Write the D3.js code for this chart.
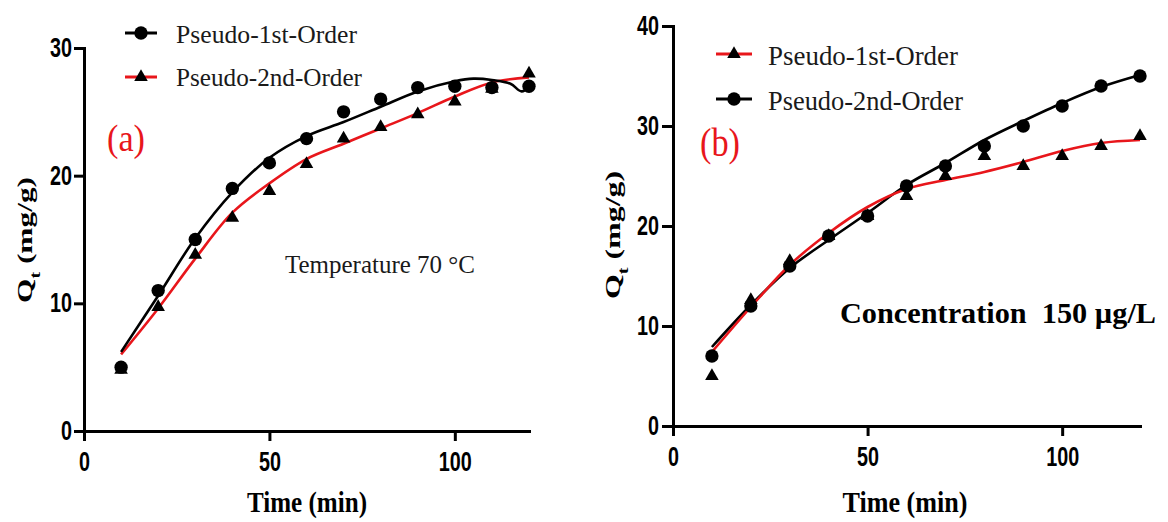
<!DOCTYPE html>
<html>
<head>
<meta charset="utf-8">
<script src="https://cdn.jsdelivr.net/npm/d3@7"></script>
<style>
  html, body { margin: 0; padding: 0; background: #ffffff; }
  svg { display: block; }
</style>
</head>
<body>
<script>
// ---------------- DATA ----------------
const time = [10, 20, 30, 40, 50, 60, 70, 80, 90, 100, 110, 120];
const xTicks = [0, 50, 100];
const yTicksA = [0, 10, 20, 30];
const yTicksB = [0, 10, 20, 30, 40];

// Panel (a) – Temperature 70 °C
const aFirstObs  = [5.0, 11.0, 15.0, 19.0, 21.0, 22.9, 25.0, 26.0, 26.9, 27.0, 26.9, 27.0];   // circles
const aSecondObs = [4.8, 9.7, 13.8, 16.7, 18.8, 20.9, 22.9, 23.8, 24.8, 25.8, 26.8, 28.0];    // triangles
const aFirstFitT = [10, 20, 30, 40, 50, 60, 70, 80, 90, 100, 105, 110, 115, 118, 120];
const aFirstFit  = [6.2, 10.6, 15.1, 18.7, 21.4, 23.1, 24.2, 25.4, 26.6, 27.4, 27.6, 27.5, 27.2, 26.6, 26.9];
const aSecondFitT = [10, 20, 30, 40, 50, 60, 70, 80, 90, 100, 110, 120];
const aSecondFit  = [6.0, 9.6, 13.5, 17.1, 19.4, 21.3, 22.5, 23.7, 24.9, 26.2, 27.3, 27.7];

// Panel (b) – Concentration 150 µg/L
const bFirstObs  = [5.0, 12.6, 16.5, 19.0, 21.0, 23.0, 25.0, 27.0, 26.0, 27.0, 28.0, 29.0];   // triangles
const bSecondObs = [7.0, 12.0, 16.0, 19.0, 21.0, 24.0, 26.0, 28.0, 30.0, 32.0, 34.0, 35.0];   // circles
const bFitT = [10, 20, 30, 40, 50, 60, 70, 80, 90, 100, 110, 120];
const bFirstFit  = [7.4, 11.9, 16.1, 19.3, 21.9, 23.7, 24.6, 25.4, 26.4, 27.5, 28.3, 28.6];
const bSecondFit = [7.9, 12.1, 15.8, 18.6, 21.3, 24.1, 26.3, 28.6, 30.5, 32.3, 33.9, 35.1];

const legendA = ["Pseudo-1st-Order", "Pseudo-2nd-Order"];
const legendB = ["Pseudo-1st-Order", "Pseudo-2nd-Order"];
const xTitle = "Time (min)";
const yTitleMain = "Q";
const yTitleSub = "t";
const yTitleRest = " (mg/g)";

// ---------------- STYLE ----------------
const RED = "#e8161b";
const BLACK = "#000000";
const SERIF = "'Liberation Serif', 'DejaVu Serif', serif";
const SANS = "'Liberation Sans', Arial, sans-serif";

const svg = d3.select("body").append("svg")
  .attr("width", 1168).attr("height", 522);

const circleSym = d3.symbol().type(d3.symbolCircle).size(140);
const triSym = d3.symbol().type(d3.symbolTriangle).size(80);

function drawAxes(x, y, yTicks, tickLen, yPad) {
  const gx = svg.append("g")
    .attr("transform", `translate(0,${y(0)})`)
    .call(d3.axisBottom(x).tickValues(xTicks).tickSize(10).tickSizeOuter(0).tickPadding(11));
  const gy = svg.append("g")
    .attr("transform", `translate(${x(0)},0)`)
    .call(d3.axisLeft(y).tickValues(yTicks).tickSize(tickLen).tickSizeOuter(0).tickPadding(yPad));
  [gx, gy].forEach(g => {
    g.selectAll("path.domain").attr("stroke", BLACK).attr("stroke-width", 3).attr("stroke-linecap", "square");
    g.selectAll(".tick line").attr("stroke", BLACK).attr("stroke-width", 3);
    g.selectAll(".tick text")
      .attr("fill", BLACK)
      .style("font-family", SANS)
      .style("font-weight", "bold")
      .style("font-size", "27px")
      .attr("textLength", d => String(d).length * 11)
      .attr("lengthAdjust", "spacingAndGlyphs");
  });
}

function drawLine(x, y, ts, vs, color) {
  const pts = ts.map((t, i) => [t, vs[i]]);
  svg.append("path")
    .datum(pts)
    .attr("fill", "none")
    .attr("stroke", color)
    .attr("stroke-width", 2.6)
    .attr("d", d3.line().x(d => x(d[0])).y(d => y(d[1])).curve(d3.curveCatmullRom.alpha(0.5)));
}

function drawMarkers(x, y, ts, vs, sym) {
  svg.append("g").selectAll("path")
    .data(ts.map((t, i) => [t, vs[i]]))
    .join("path")
    .attr("transform", d => `translate(${x(d[0])},${y(d[1])})`)
    .attr("d", sym)
    .attr("fill", BLACK);
}

function legendRow(x0, x1, yLine, color, sym, text, tx, ty, fs, tl) {
  svg.append("line").attr("x1", x0).attr("x2", x1).attr("y1", yLine).attr("y2", yLine)
    .attr("stroke", color).attr("stroke-width", 3);
  svg.append("path").attr("transform", `translate(${(x0 + x1) / 2},${yLine})`).attr("d", sym).attr("fill", BLACK);
  svg.append("text").attr("x", tx).attr("y", ty).text(text)
    .style("font-family", SERIF).style("font-size", fs + "px").attr("fill", "#1a1a1a")
    .attr("textLength", tl).attr("lengthAdjust", "spacingAndGlyphs");
}

function yTitle(cx, cy, len) {
  const t = svg.append("text")
    .attr("transform", `translate(${cx},${cy}) rotate(-90)`)
    .attr("text-anchor", "middle")
    .attr("dy", "0.35em")
    .style("font-family", SERIF).style("font-weight", "bold").style("font-size", "22px")
    .attr("textLength", len).attr("lengthAdjust", "spacingAndGlyphs");
  t.append("tspan").text(yTitleMain);
  t.append("tspan").attr("baseline-shift", "sub").style("font-size", "14px").text(yTitleSub);
  t.append("tspan").text(yTitleRest);
}

function xTitleText(cx, by, len) {
  svg.append("text").attr("x", cx).attr("y", by).attr("text-anchor", "middle")
    .style("font-family", SERIF).style("font-weight", "bold").style("font-size", "29px")
    .attr("textLength", len).attr("lengthAdjust", "spacingAndGlyphs")
    .text(xTitle);
}

// ---------------- PANEL (a) ----------------
const xA = d3.scaleLinear().domain([0, 120]).range([84, 529]);
const yA = d3.scaleLinear().domain([0, 30]).range([431, 48]);

drawAxes(xA, yA, yTicksA, 10, 2);
drawLine(xA, yA, aSecondFitT, aSecondFit, RED);
drawLine(xA, yA, aFirstFitT, aFirstFit, BLACK);
drawMarkers(xA, yA, time, aFirstObs, circleSym);
drawMarkers(xA, yA, time, aSecondObs, triSym);

legendRow(125, 157, 33, BLACK, circleSym, legendA[0], 176, 43, 26, 181);
legendRow(125, 157, 77, RED, triSym, legendA[1], 176, 86, 26, 186);

svg.append("text").attr("x", 107).attr("y", 151).text("(a)")
  .style("font-family", SERIF).style("font-size", "38px").attr("fill", RED)
  .attr("textLength", 38).attr("lengthAdjust", "spacingAndGlyphs");

svg.append("text").attr("x", 285).attr("y", 273)
  .style("font-family", SERIF).style("font-size", "26px").attr("fill", "#1a1a1a")
  .attr("textLength", 190).attr("lengthAdjust", "spacingAndGlyphs")
  .text("Temperature 70 °C");

yTitle(24, 240, 126);
xTitleText(307, 512, 120);

// ---------------- PANEL (b) ----------------
const xB = d3.scaleLinear().domain([0, 120]).range([673, 1140]);
const yB = d3.scaleLinear().domain([0, 40]).range([426, 26]);

drawAxes(xB, yB, yTicksB, 11, 3);
drawLine(xB, yB, bFitT, bSecondFit, BLACK);
drawLine(xB, yB, bFitT, bFirstFit, RED);
drawMarkers(xB, yB, time, bSecondObs, circleSym);
drawMarkers(xB, yB, time, bFirstObs, triSym);

legendRow(716, 752, 54, RED, triSym, legendB[0], 768, 65, 27, 190);
legendRow(716, 752, 99, BLACK, circleSym, legendB[1], 768, 110, 27, 195);

svg.append("text").attr("x", 700).attr("y", 156).text("(b)")
  .style("font-family", SERIF).style("font-size", "40px").attr("fill", RED)
  .attr("textLength", 40).attr("lengthAdjust", "spacingAndGlyphs");

svg.append("text").attr("x", 840).attr("y", 323)
  .style("font-family", SERIF).style("font-weight", "bold").style("font-size", "29px").attr("fill", BLACK)
  .style("white-space", "pre")
  .attr("textLength", 316).attr("lengthAdjust", "spacingAndGlyphs")
  .text("Concentration  150 µg/L");

yTitle(612, 235, 128);
xTitleText(905, 512, 125);
</script>
</body>
</html>
